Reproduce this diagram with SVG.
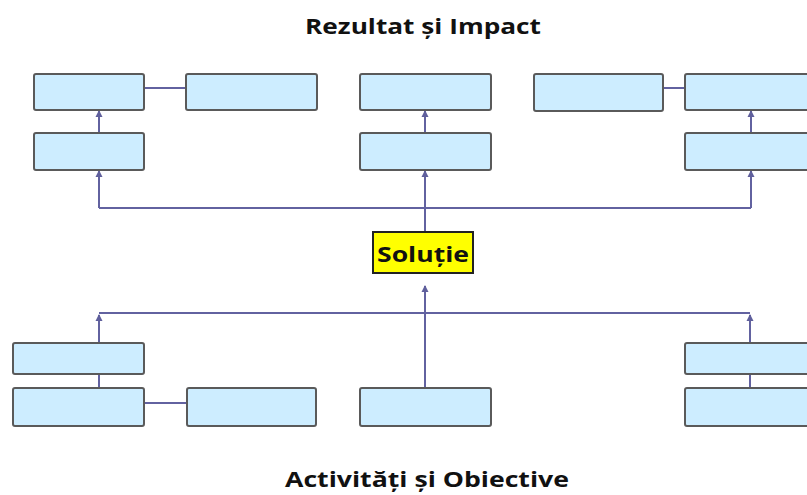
<svg xmlns="http://www.w3.org/2000/svg" width="807" height="495" viewBox="0 0 807 495">
<defs>
<marker id="arr" viewBox="0 0 8 8" refX="6" refY="4" markerWidth="8" markerHeight="8" markerUnits="userSpaceOnUse" orient="auto">
<path d="M0,0.5 L7,4 L0,7.5 Z" fill="#5f5f9c"/>
</marker>
</defs>
<style>
.box{fill:#cdedff;stroke:#5a5a5a;stroke-width:2}
.ln{fill:none;stroke:#6262a0;stroke-width:2}
.ttl{font-family:"Open Sans","Liberation Sans",Arial,sans-serif;font-weight:bold;fill:#111;text-anchor:middle}
</style>
<rect width="807" height="495" fill="#fff"/>
<text class="ttl" x="423" y="34" font-size="22" textLength="236" lengthAdjust="spacingAndGlyphs">Rezultat și Impact</text>
<text class="ttl" x="427" y="487" font-size="22" textLength="284" lengthAdjust="spacingAndGlyphs">Activități și Obiective</text>
<g id="connectors">
<line class="ln" x1="144" y1="88" x2="186" y2="88"/>
<line class="ln" x1="663" y1="88" x2="685" y2="88"/>
<line class="ln" x1="99" y1="133" x2="99" y2="111" marker-end="url(#arr)"/>
<line class="ln" x1="425" y1="133" x2="425" y2="111" marker-end="url(#arr)"/>
<line class="ln" x1="751" y1="133" x2="751" y2="111" marker-end="url(#arr)"/>
<polyline class="ln" points="751,208 99,208"/>
<line class="ln" x1="99" y1="208" x2="99" y2="171" marker-end="url(#arr)"/>
<line class="ln" x1="751" y1="208" x2="751" y2="171" marker-end="url(#arr)"/>
<line class="ln" x1="425" y1="232" x2="425" y2="171" marker-end="url(#arr)"/>
<line class="ln" x1="99" y1="313" x2="750" y2="313"/>
<line class="ln" x1="99" y1="343" x2="99" y2="315" marker-end="url(#arr)"/>
<line class="ln" x1="750" y1="343" x2="750" y2="315" marker-end="url(#arr)"/>
<line class="ln" x1="425" y1="388" x2="425" y2="286" marker-end="url(#arr)"/>
<line class="ln" x1="99" y1="374" x2="99" y2="388"/>
<line class="ln" x1="750" y1="374" x2="750" y2="388"/>
<line class="ln" x1="144" y1="403" x2="186" y2="403"/>
</g>
<g id="r1a"><rect class="box" x="34" y="74" width="110" height="36" rx="2"/></g>
<g id="r1b"><rect class="box" x="186" y="74" width="131" height="36" rx="2"/></g>
<g id="r1c"><rect class="box" x="360" y="74" width="131" height="36" rx="2"/></g>
<g id="r1d"><rect class="box" x="534" y="74" width="129" height="37" rx="2"/></g>
<g id="r1e"><rect class="box" x="685" y="74" width="130" height="36" rx="2"/></g>
<g id="r2a"><rect class="box" x="34" y="133" width="110" height="37" rx="2"/></g>
<g id="r2c"><rect class="box" x="360" y="133" width="131" height="37" rx="2"/></g>
<g id="r2e"><rect class="box" x="685" y="133" width="130" height="37" rx="2"/></g>
<g id="solutie">
<rect x="373" y="232" width="100" height="41" fill="#ffff00" stroke="#222" stroke-width="2"/>
<text class="ttl" x="423" y="262" font-size="21" textLength="92" lengthAdjust="spacingAndGlyphs">Soluție</text>
</g>
<g id="b1a"><rect class="box" x="13" y="343" width="131" height="31" rx="2"/></g>
<g id="b1e"><rect class="box" x="685" y="343" width="130" height="31" rx="2"/></g>
<g id="b2a"><rect class="box" x="13" y="388" width="131" height="38" rx="2"/></g>
<g id="b2b"><rect class="box" x="187" y="388" width="129" height="38" rx="2"/></g>
<g id="b2c"><rect class="box" x="360" y="388" width="131" height="38" rx="2"/></g>
<g id="b2e"><rect class="box" x="685" y="388" width="130" height="38" rx="2"/></g>
</svg>
